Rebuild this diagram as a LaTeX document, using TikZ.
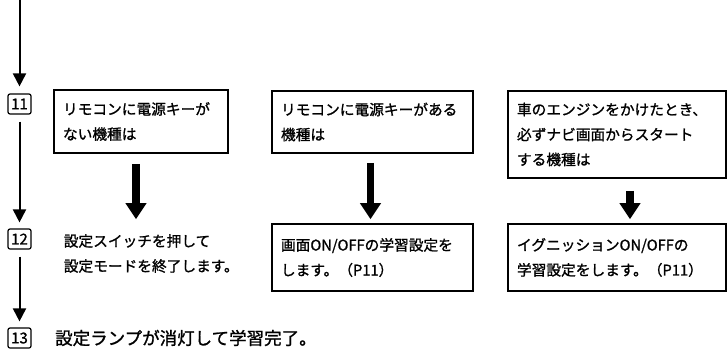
\documentclass[tikz,border=0pt]{standalone}
\usepackage{fontspec}
\setmainfont{Noto Sans CJK JP}[FakeBold=1.2]
\usetikzlibrary{arrows.meta}
\tikzset{
  waku/.style={draw,line width=1.6pt,align=left,inner xsep=9pt,
    font=\fontsize{14.7}{25}\selectfont},
  bango/.style={draw,line width=1.2pt,rounded corners=2pt,inner sep=0pt,
    minimum width=23pt,minimum height=20pt,font=\fontsize{15}{15}\selectfont},
  hosoya/.style={line width=2pt,-{Triangle[width=13pt,length=13pt]}},
  futoya/.style={line width=7.5pt,-{Triangle[width=20pt,length=16pt]}}
}
\begin{document}
\begin{tikzpicture}[x=1pt,y=-1pt]
  \useasboundingbox (0,0) rectangle (728,359);
  % steps on the left
  \coordinate (top) at (19.5,0);
  \node[bango](n11) at (19.5,104){11};
  \node[bango](n12) at (19.5,239){12};
  \node[bango](n13) at (19.5,338){13};
  \draw[hosoya,shorten >=7pt] (top) -- (n11);
  \draw[hosoya,shorten <=7pt,shorten >=6pt] (n11) -- (n12);
  \draw[hosoya,shorten <=7pt,shorten >=6pt] (n12) -- (n13);
  % three cases
  \node[waku,text width=156pt,minimum height=63pt](b1) at (141,121.5)
    {リモコンに電源キーが\\ない機種は};
  \node[waku,text width=183pt,minimum height=62pt](b2) at (372.5,122)
    {リモコンに電源キーがある\\機種は};
  \node[waku,text width=200pt,minimum height=87pt](b3) at (617,134.5)
    {車のエンジンをかけたとき、\\必ずナビ画面からスタート\\する機種は};
  \node[waku,draw=none,anchor=west](t1) at (54,253.5)
    {設定スイッチを押して\\設定モードを終了します。};
  \node[waku,text width=183pt,minimum height=67pt](b4) at (372.5,257.5)
    {画面ON/OFFの学習設定を\\します。（P11）};
  \node[waku,text width=200pt,minimum height=67pt](b5) at (617,257.5)
    {イグニッションON/OFFの\\学習設定をします。（P11）};
  \node[anchor=west,inner sep=0pt,font=\fontsize{17.5}{17.5}\selectfont](t13) at (55,338)
    {設定ランプが消灯して学習完了。};
  \draw[futoya,shorten <=10pt,shorten >=4pt] ([xshift=-5pt]b1.south) -- ([xshift=-5pt]b1.south |- b4.north);
  \draw[futoya,shorten <=9pt,shorten >=4pt] ([xshift=-2pt]b2.south) -- ([xshift=-2pt]b4.north);
  \draw[futoya,shorten <=12pt,shorten >=4pt] ([xshift=13pt]b3.south) -- ([xshift=13pt]b5.north);
\end{tikzpicture}
\end{document}
